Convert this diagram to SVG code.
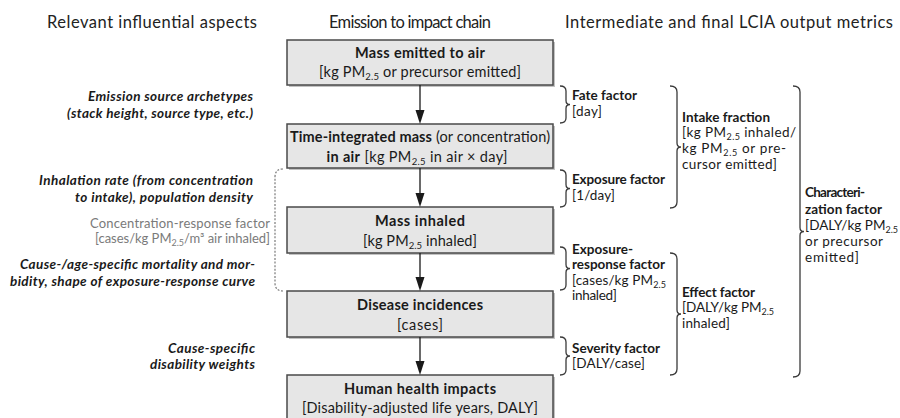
<svg xmlns="http://www.w3.org/2000/svg" width="900" height="418" viewBox="0 0 900 418">
<style>
text{font-family:Lato,"Liberation Sans",sans-serif;fill:#1a1a1a}
.hd{font-size:16.5px;fill:#222}
.bx{font-size:14.5px;text-anchor:middle}
.b{font-weight:bold}
.lt{font-size:13.5px;font-style:italic;font-weight:bold;text-anchor:end}
.gr{font-size:13px;fill:#7a7a7a;text-anchor:end}
.rt{font-size:13.5px}
.node rect.box{fill:#e6e6e6;stroke:#4a4a4a;stroke-width:1.5}
.node rect.sh{fill:#9a9a9a;opacity:0.6}
.con line{stroke:#1a1a1a;stroke-width:1.3}
.con polygon{fill:#1a1a1a}
.br path{fill:none;stroke:#3a3a3a;stroke-width:1.3}
.dash{fill:none;stroke:#7a7a7a;stroke-width:1.2;stroke-dasharray:2 1.6}
</style>

<g id="headers">
<text class="hd" x="47" y="28" textLength="210">Relevant influential aspects</text>
<text class="hd" x="329" y="28" textLength="162">Emission to impact chain</text>
<text class="hd" x="565" y="28" textLength="328">Intermediate and final LCIA output metrics</text>
</g>

<g id="node-emitted" class="node">
<rect class="sh" x="289" y="42" width="266" height="45"/>
<rect class="box" x="287" y="40" width="266" height="45"/>
<text class="bx b" x="420" y="58" textLength="130">Mass emitted to air</text>
<text class="bx" x="420" y="77" textLength="202">[kg PM<tspan font-size="9.5" dy="3">2.5</tspan><tspan dy="-3"> or precursor emitted]</tspan></text>
</g>

<g id="node-timeintegrated" class="node">
<rect class="sh" x="289" y="126" width="266" height="44"/>
<rect class="box" x="287" y="124" width="266" height="44"/>
<text class="bx" x="420" y="142" textLength="260"><tspan class="b">Time-integrated mass</tspan> (or concentration)</text>
<text class="bx" x="417" y="162" textLength="181"><tspan class="b">in air</tspan> [kg PM<tspan font-size="9.5" dy="3">2.5</tspan><tspan dy="-3"> in air × day]</tspan></text>
</g>

<g id="node-inhaled" class="node">
<rect class="sh" x="289" y="209" width="266" height="46"/>
<rect class="box" x="287" y="207" width="266" height="46"/>
<text class="bx b" x="420" y="226" textLength="90">Mass inhaled</text>
<text class="bx" x="420" y="246" textLength="114">[kg PM<tspan font-size="9.5" dy="3">2.5</tspan><tspan dy="-3"> inhaled]</tspan></text>
</g>

<g id="node-disease" class="node">
<rect class="sh" x="289" y="293" width="266" height="46"/>
<rect class="box" x="287" y="291" width="266" height="46"/>
<text class="bx b" x="420" y="310" textLength="126">Disease incidences</text>
<text class="bx" x="420" y="330" textLength="46">[cases]</text>
</g>

<g id="node-health" class="node">
<rect class="sh" x="289" y="377" width="266" height="46"/>
<rect class="box" x="287" y="375" width="266" height="46"/>
<text class="bx b" x="420" y="394" textLength="152">Human health impacts</text>
<text class="bx" x="420" y="413" textLength="236">[Disability-adjusted life years, DALY]</text>
</g>

<g id="connectors" class="con">
<line x1="420" y1="85" x2="420" y2="111"/>
<polygon points="415.5,110 424.5,110 420,124"/>
<line x1="420" y1="168" x2="420" y2="194"/>
<polygon points="415.5,193 424.5,193 420,207"/>
<line x1="420" y1="253" x2="420" y2="278"/>
<polygon points="415.5,277 424.5,277 420,291"/>
<line x1="420" y1="337" x2="420" y2="362"/>
<polygon points="415.5,361 424.5,361 420,375"/>
</g>

<g id="left-aspects">
<text class="lt" x="253" y="101" textLength="165">Emission source archetypes</text>
<text class="lt" x="253" y="118" textLength="186">(stack height, source type, etc.)</text>
<text class="lt" x="253" y="185" textLength="214">Inhalation rate (from concentration</text>
<text class="lt" x="253" y="202" textLength="178">to intake), population density</text>
<text class="gr" x="270" y="228" textLength="180">Concentration-response factor</text>
<text class="gr" x="270" y="243" textLength="175">[cases/kg PM<tspan font-size="9" dy="3">2.5</tspan><tspan dy="-3">/m³ air inhaled]</tspan></text>
<text class="lt" x="255" y="269" textLength="235">Cause-/age-specific mortality and mor-</text>
<text class="lt" x="255" y="286" textLength="245">bidity, shape of exposure-response curve</text>
<text class="lt" x="255" y="353" textLength="87">Cause-specific</text>
<text class="lt" x="255" y="369" textLength="105">disability weights</text>
<path class="dash" d="M283 169 Q275 169 275 177 L275 283 Q275 291 283 291"/>
</g>

<g id="brackets" class="br">
<path d="M560 86 Q566 86 566 91 L566 100.5 Q566 104.5 570 104.5 Q566 104.5 566 108.5 L566 118 Q566 123 560 123"/>
<path d="M560 170 Q566 170 566 175 L566 184.5 Q566 188.5 570 188.5 Q566 188.5 566 192.5 L566 202 Q566 207 560 207"/>
<path d="M560 247 Q566 247 566 252 L566 264.5 Q566 268.5 570 268.5 Q566 268.5 566 272.5 L566 285 Q566 290 560 290"/>
<path d="M560 337 Q566 337 566 342 L566 352 Q566 356 570 356 Q566 356 566 360 L566 370 Q566 375 560 375"/>
<path d="M670 86 Q677 86 677 92 L677 143 Q677 147 681 147 Q677 147 677 151 L677 202 Q677 208 670 208"/>
<path d="M670 253 Q677 253 677 259 L677 310 Q677 314 681 314 Q677 314 677 318 L677 369 Q677 375 670 375"/>
<path d="M793 86 Q800 86 800 92 L800 227.5 Q800 231.5 804 231.5 Q800 231.5 800 235.5 L800 371 Q800 377 793 377"/>
</g>

<g id="metrics">
<text class="rt b" x="572" y="100" textLength="65">Fate factor</text>
<text class="rt" x="572" y="116" textLength="30">[day]</text>
<text class="rt b" x="572" y="184" textLength="93">Exposure factor</text>
<text class="rt" x="572" y="200" textLength="43">[1/day]</text>
<text class="rt b" x="572" y="254" textLength="61">Exposure-</text>
<text class="rt b" x="572" y="269" textLength="93">response factor</text>
<text class="rt" x="572" y="285" textLength="94">[cases/kg PM<tspan font-size="9" dy="2.5">2.5</tspan></text>
<text class="rt" x="572" y="300" textLength="45">inhaled]</text>
<text class="rt b" x="572" y="353" textLength="88">Severity factor</text>
<text class="rt" x="572" y="368" textLength="73">[DALY/case]</text>
<text class="rt b" x="682" y="122" textLength="88">Intake fraction</text>
<text class="rt" x="682" y="137" textLength="114">[kg PM<tspan font-size="9" dy="2.5">2.5</tspan><tspan dy="-2.5"> inhaled/</tspan></text>
<text class="rt" x="682" y="153" textLength="104">kg PM<tspan font-size="9" dy="2.5">2.5</tspan><tspan dy="-2.5"> or pre-</tspan></text>
<text class="rt" x="682" y="169" textLength="95">cursor emitted]</text>
<text class="rt b" x="682" y="297" textLength="73">Effect factor</text>
<text class="rt" x="682" y="312" textLength="92">[DALY/kg PM<tspan font-size="9" dy="2.5">2.5</tspan></text>
<text class="rt" x="682" y="328" textLength="48">inhaled]</text>
<text class="rt b" x="805" y="197" textLength="60">Characteri-</text>
<text class="rt b" x="805" y="214" textLength="77">zation factor</text>
<text class="rt" x="805" y="230" textLength="93">[DALY/kg PM<tspan font-size="9" dy="2.5">2.5</tspan></text>
<text class="rt" x="805" y="246" textLength="78">or precursor</text>
<text class="rt" x="805" y="262" textLength="54">emitted]</text>
</g>
</svg>
